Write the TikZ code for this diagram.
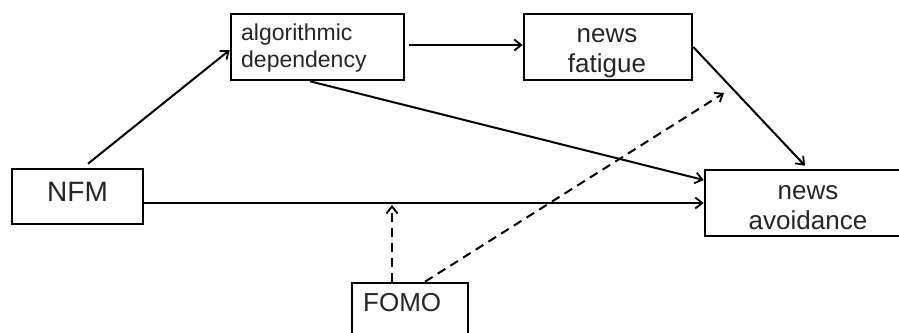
\documentclass[tikz,border=0pt]{standalone}
\usepackage{fontspec}
\setmainfont{Liberation Sans}
\usetikzlibrary{arrows.meta,calc}
\begin{document}
\begin{tikzpicture}[x=1pt,y=-1pt,
  box/.style={draw=black,line width=2.6pt,rectangle,inner sep=0pt},
  lbl/.style={inner sep=0pt,align=center,text=black!85,font=\fontsize{26}{30}\selectfont},
  arr/.style={line width=2pt,-{Straight Barb[length=7pt,width=11pt,line width=1.8pt]}},
  darr/.style={arr,dash pattern=on 9pt off 6pt}]
\useasboundingbox (0,0) rectangle (899,332);
\clip (0,0) rectangle (899,332);
\fill[white] (0,0) rectangle (899,332);
% boxes
\node[box,minimum width=173pt,minimum height=66pt] (alg) at (317.5,47) {};
\node[box,minimum width=168pt,minimum height=66pt] (fat) at (608,47) {};
\node[box,minimum width=131pt,minimum height=55pt] (nfm) at (77.5,196.5) {};
\node[box,minimum width=200pt,minimum height=66pt] (avo) at (805,203) {};
\node[box,minimum width=116pt,minimum height=62pt] (fomo) at (410,314) {};
% labels
\node[lbl,align=left,anchor=west,font=\fontsize{23}{27}\selectfont] (algt) at (241,48) {algorithmic\\dependency};
\node[lbl] (fatt) at (607,53) {news\\fatigue};
\node[lbl,font=\fontsize{28}{32}\selectfont] (nfmt) at (77.5,192) {NFM};
\node[lbl] (avot) at (808,207.5) {news\\avoidance};
\node[lbl,anchor=west,font=\fontsize{26}{30}\selectfont] (fomot) at (363,303) {FOMO};
% connectors
\coordinate (m1) at (392,205);
\coordinate (m2) at (724,93);
\draw[arr] ([xshift=10.5pt,yshift=4pt]nfm.north) -- ([yshift=-3pt]alg.west);
\draw[arr] ([xshift=4pt,yshift=2pt]alg.east) -- ([yshift=2pt]fat.west);
\draw[arr] ([xshift=-7.5pt]alg.south) -- ([yshift=23pt]avo.west);
\draw[arr] (fat.east) -- ([yshift=3pt]avo.north);
\draw[arr] (nfm.east |- avo.west) -- (avo.west);
\draw[darr] (fomo.north -| m1) -- (m1);
\draw[darr] ([xshift=15pt]fomo.north) -- (m2);
\end{tikzpicture}
\end{document}
